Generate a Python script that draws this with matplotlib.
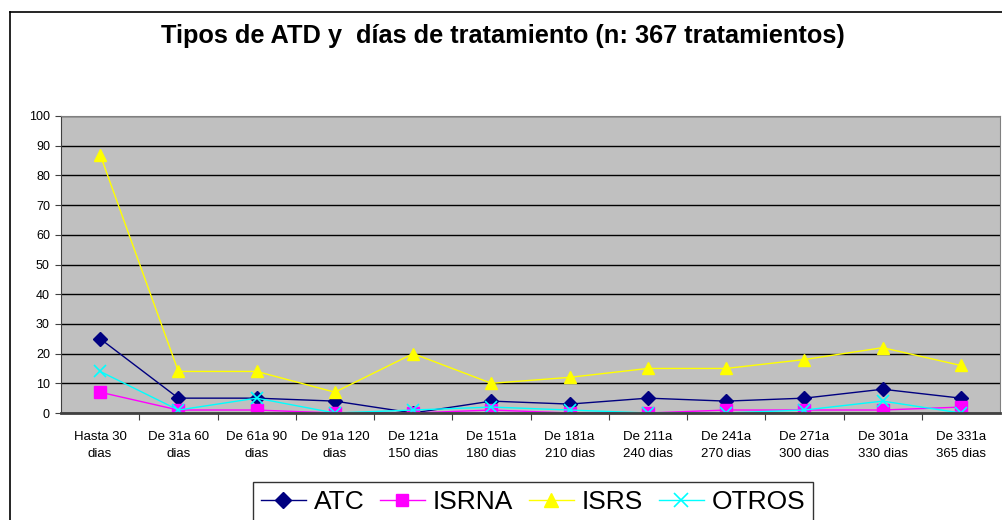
import matplotlib
matplotlib.use("Agg")
import matplotlib.pyplot as plt
from matplotlib.lines import Line2D

# Data
categories = ["Hasta 30\ndias", "De 31a 60\ndias", "De 61a 90\ndias", "De 91a 120\ndias",
              "De 121a\n150 dias", "De 151a\n180 dias", "De 181a\n210 dias", "De 211a\n240 dias",
              "De 241a\n270 dias", "De 271a\n300 dias", "De 301a\n330 dias", "De 331a\n365 dias"]
atc = [25, 5, 5, 4, 0, 4, 3, 5, 4, 5, 8, 5]
isrna = [7, 1, 1, 0, 0, 1, 0, 0, 1, 1, 1, 2]
isrs = [87, 14, 14, 7, 20, 10, 12, 15, 15, 18, 22, 16]
otros = [14, 1, 5, 0, 1, 2, 1, 0, 0, 1, 4, 0]

plt.rcParams["font.family"] = ["Liberation Sans", "DejaVu Sans"]

W, H = 1002, 520
fig = plt.figure(figsize=(W / 100, H / 100), dpi=100)
ax = fig.add_axes([61 / W, 1 - 413 / H, (1000 - 61) / W, (413 - 116) / H])
ax.set_facecolor("#C0C0C0")

x = list(range(len(categories)))
ax.plot(x, atc, color="#000080", marker="D", markersize=7, lw=1, label="ATC")
ax.plot(x, isrna, color="#FF00FF", marker="s", markersize=8, lw=1, label="ISRNA")
ax.plot(x, isrs, color="#FFFF00", marker="^", markersize=9, lw=1, label="ISRS")
ax.plot(x, otros, color="#00FFFF", marker="x", markersize=9, mew=1.2, lw=1, label="OTROS")

ax.set_xlim(-0.5, len(categories) - 0.5)
ax.set_ylim(0, 100)
ax.set_yticks(range(0, 101, 10))
ax.yaxis.grid(True, color="black", lw=1)
ax.set_axisbelow(True)

ax.set_xticks([i + 0.5 for i in range(len(categories) - 1)])
ax.set_xticklabels([])
ax.set_xticks(x, minor=True)
ax.set_xticklabels(categories, minor=True, fontsize=9.5, linespacing=1.5)
ax.tick_params(axis="x", which="minor", length=0, pad=13)
ax.tick_params(axis="x", which="major", length=5, direction="out", color="#404040")
ax.tick_params(axis="y", length=4, direction="out", labelsize=9, pad=4, color="#404040")

for s in ["top", "right"]:
    ax.spines[s].set_color("#808080")
ax.spines["left"].set_color("#404040")
ax.spines["bottom"].set_color("#404040")
ax.spines["bottom"].set_linewidth(2)

fig.text(503 / W, 1 - 36 / H, "Tipos de ATD y  días de tratamiento (n: 367 tratamientos)",
         ha="center", va="center", fontsize=18.3, fontweight="bold")

leg = fig.legend(loc="upper center", bbox_to_anchor=(533 / W, 1 - 482 / H), ncol=4,
                 fontsize=19, frameon=True, fancybox=False, edgecolor="black",
                 handlelength=1.7, columnspacing=0.6, handletextpad=0.3,
                 borderpad=0.3, borderaxespad=0, markerscale=1.1)
leg.get_frame().set_linewidth(1)

# outer chart frame (cut off at right and bottom)
fig.add_artist(Line2D([10 / W, 10 / W], [0, 1 - 12 / H], color="black", lw=1.2))
fig.add_artist(Line2D([10 / W, 1], [1 - 12 / H, 1 - 12 / H], color="black", lw=1.2))

fig.savefig("out.png", dpi=100)
